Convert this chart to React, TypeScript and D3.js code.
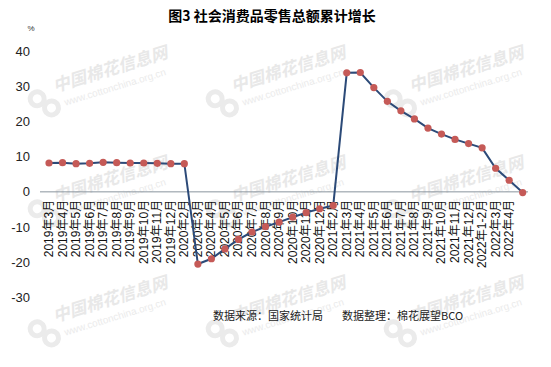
import React from "react";
import * as d3 from "d3";

const title = "图3 社会消费品零售总额累计增长";
const unitLabel = "%";
const sourceText = "数据来源：国家统计局";
const editorText = "数据整理：棉花展望BCO";

// 35 category labels as printed on the reference (the last point has no label)
const labels2019 = ["2019年3月", "2019年4月", "2019年5月", "2019年6月", "2019年7月", "2019年8月", "2019年9月", "2019年10月", "2019年11月", "2019年12月"];
const labels2020 = ["2020年2月", "2020年3月", "2020年4月", "2020年5月", "2020年6月", "2020年7月", "2020年8月", "2020年9月", "2020年10月", "2020年11月", "2020年12月"];
const labels2021 = ["2021年2月", "2021年3月", "2021年4月", "2021年5月", "2021年6月", "2021年7月", "2021年8月", "2021年9月", "2021年10月", "2021年11月", "2021年12月"];
const labels2022 = ["2022年1-2月", "2022年3月", "2022年4月"];
const categoryLabels = [...labels2019, ...labels2020, ...labels2021, ...labels2022];

// cumulative growth values (%), 36 points
const values2019 = [8.2, 8.3, 8.0, 8.1, 8.4, 8.3, 8.2, 8.2, 8.1, 8.0, 8.0];
const values2020 = [-20.5, -19.0, -16.2, -13.5, -11.4, -9.9, -8.6, -7.2, -5.9, -4.8, -3.9];
const values2021 = [33.8, 33.9, 29.6, 25.7, 23.0, 20.7, 18.1, 16.4, 14.9, 13.7, 12.5];
const values2022 = [6.7, 3.3, -0.2];
const values = [...values2019, ...values2020, ...values2021, ...values2022];

const yTicks = [-30, -20, -10, 0, 10, 20, 30, 40];

const watermarkX = [44, 222, 400];
const watermarkY = [104, 214, 334];

const W = 551;
const H = 367;

export default function App() {
  const x = d3.scaleLinear().domain([0, values.length - 1]).range([49, 522.7]);
  const y = d3.scaleLinear().domain([-30, 40]).range([297.5, 51]);
  const line = d3
    .line<number>()
    .x((_, i) => x(i))
    .y((d) => y(d));

  const fontLatin = "'Liberation Sans', Arial, 'Noto Sans CJK SC', sans-serif";
  const fontCJK = "'Noto Sans CJK SC', 'Liberation Sans', sans-serif";

  return (
    <svg
      width={W}
      height={H}
      style={{ position: "absolute", left: 0, top: 0, background: "#fff" }}
    >
      <rect x={0} y={0} width={W} height={H} fill="#fff" />
      {/* watermarks */}
      <g>
        {watermarkY.map((cy, r) =>
          watermarkX.map((cx, c) => (
            <g key={`${r}-${c}`} transform={`translate(${cx},${cy}) rotate(-17)`}>
              <circle cx={-5} cy={-7} r={7} fill="none" stroke="#ebebeb" strokeWidth={5} />
              <circle cx={6} cy={6} r={7} fill="none" stroke="#ebebeb" strokeWidth={5} />
              <text x={14} y={-8} fontSize={17} fontWeight="bold" fontStyle="italic" fontFamily={fontCJK} fill="#e8e8e8">
                中国棉花信息网
              </text>
              <text x={20} y={8} fontSize={10} fontFamily={fontLatin} fill="#ebebeb">
                www.cottonchina.org.cn
              </text>
            </g>
          ))
        )}
      </g>

      {/* title */}
      <text x={272} y={21} textAnchor="middle" fontSize={14} fontWeight="bold" fontFamily={fontCJK} fill="#000">
        {title}
      </text>
      <text x={31} y={31} textAnchor="middle" fontSize={8} fontFamily={fontLatin} fill="#333">
        {unitLabel}
      </text>

      {/* y tick labels */}
      {yTicks.map((t) => (
        <text
          key={t}
          x={30}
          y={y(t)}
          textAnchor="end"
          dominantBaseline="central"
          fontSize={13}
          fontFamily={fontLatin}
          fill="#222"
        >
          {t}
        </text>
      ))}

      {/* zero axis */}
      <line x1={40} x2={528} y1={y(0)} y2={y(0)} stroke="#8a949e" strokeWidth={1} />

      {/* x labels */}
      {categoryLabels.map((l, i) => (
        <text
          key={l}
          transform={`translate(${x(i)},${y(0) + 8}) rotate(-90)`}
          textAnchor="end"
          dominantBaseline="central"
          fontSize={12}
          fontFamily={fontLatin}
          fill="#111"
        >
          {l}
        </text>
      ))}

      {/* line */}
      <path d={line(values) || ""} fill="none" stroke="#2c4a78" strokeWidth={2} />
      {values.map((v, i) => (
        <circle key={i} cx={x(i)} cy={y(v)} r={3.6} fill="#c55a57" />
      ))}

      {/* source */}
      <text x={213} y={320} fontSize={11} fontFamily={fontCJK} fill="#222">
        {sourceText}
      </text>
      <text x={342} y={320} fontSize={11} fontFamily={fontCJK} fill="#222">
        {editorText}
      </text>
    </svg>
  );
}
